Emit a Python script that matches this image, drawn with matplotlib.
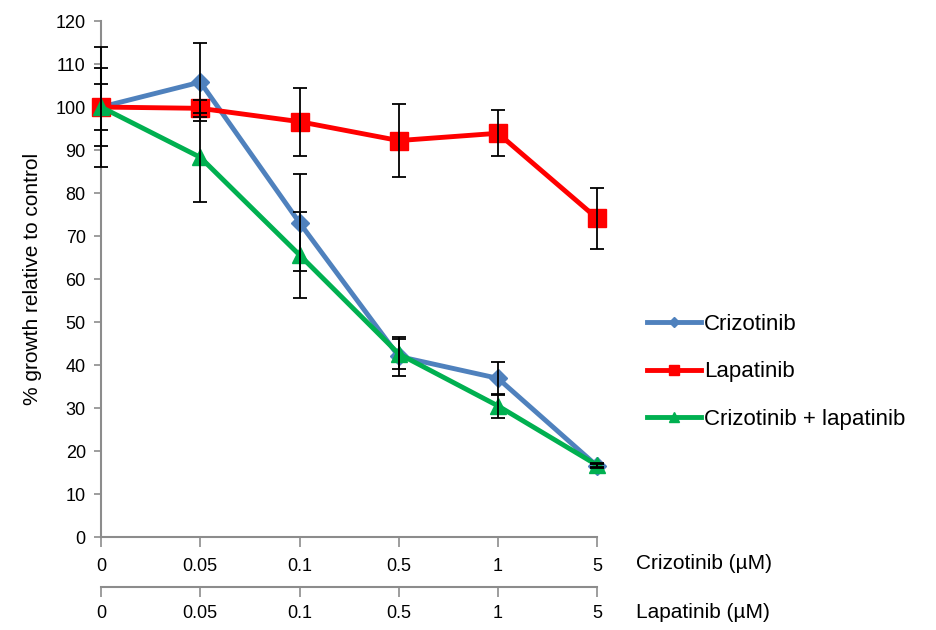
import matplotlib.pyplot as plt
import numpy as np
from matplotlib import rcParams

rcParams['font.family'] = ['Liberation Sans', 'DejaVu Sans']
rcParams['font.size'] = 13

# doses (categorical positions)
crizotinib_doses = ['0', '0.05', '0.1', '0.5', '1', '5']
lapatinib_doses = ['0', '0.05', '0.1', '0.5', '1', '5']

crizotinib = [100, 105.8, 73.1, 42.0, 36.9, 16.5]
crizotinib_err = [14, 9, 11.3, 4.5, 3.9, 0.5]

lapatinib = [100, 99.7, 96.6, 92.2, 93.9, 74.1]
lapatinib_err = [9, 2, 7.9, 8.5, 5.3, 7.1]

combo = [100, 88.3, 65.6, 42.6, 30.5, 16.7]
combo_err = [5.3, 10.3, 10, 3.5, 2.8, 0.5]

x = np.arange(len(crizotinib_doses))

fig = plt.figure(figsize=(9.36, 6.3), dpi=100)
ax = fig.add_axes([0.108, 0.1476, 0.530, 0.819])

series = [
    ('Crizotinib', crizotinib, crizotinib_err, '#4F81BD', 'D', 9),
    ('Lapatinib', lapatinib, lapatinib_err, '#FF0000', 's', 13),
    ('Crizotinib + lapatinib', combo, combo_err, '#00B050', '^', 12),
]

for label, vals, errs, color, marker, ms in series:
    ax.plot(x, vals, color=color, lw=3.5, marker=marker, ms=ms,
            label=label, clip_on=False, zorder=3)

# error bars sit on top of the markers
for label, vals, errs, color, marker, ms in series:
    ax.errorbar(x, vals, yerr=errs, fmt='none', ecolor='black', elinewidth=1.3,
                capsize=5, capthick=1.3, clip_on=False, zorder=4)

ax.set_xlim(0, 5)
ax.set_ylim(0, 120)
ax.set_yticks(np.arange(0, 121, 10))
ax.set_xticks(x)
ax.set_xticklabels(crizotinib_doses)

for side in ['top', 'right']:
    ax.spines[side].set_visible(False)
for side in ['left', 'bottom']:
    ax.spines[side].set_color('#8C8C8C')
    ax.spines[side].set_linewidth(1.5)

ax.tick_params(axis='y', direction='out', length=5, color='#8C8C8C', width=1.2, pad=6)
ax.tick_params(axis='x', direction='out', length=7, color='#8C8C8C', width=1.2, pad=8)

# second dose axis below
sec = ax.secondary_xaxis(-0.097)
sec.set_xticks(x)
sec.set_xticklabels(lapatinib_doses)
sec.spines['bottom'].set_color('#8C8C8C')
sec.spines['bottom'].set_linewidth(1.5)
sec.tick_params(axis='x', direction='out', length=7, color='#8C8C8C', width=1.2, pad=6)

ax.text(1.079, -0.052, 'Crizotinib (µM)', transform=ax.transAxes, va='center', ha='left', fontsize=15)
ax.text(1.079, -0.147, 'Lapatinib (µM)', transform=ax.transAxes, va='center', ha='left', fontsize=15)

ax.set_ylabel('% growth relative to control', labelpad=10, fontsize=15)

ax.legend(loc='center left', bbox_to_anchor=(1.061, 0.32), frameon=False,
          fontsize=16, handlelength=2.4, handletextpad=0.15, labelspacing=1.2,
          markerscale=0.6)

plt.savefig('out.png', dpi=100)
